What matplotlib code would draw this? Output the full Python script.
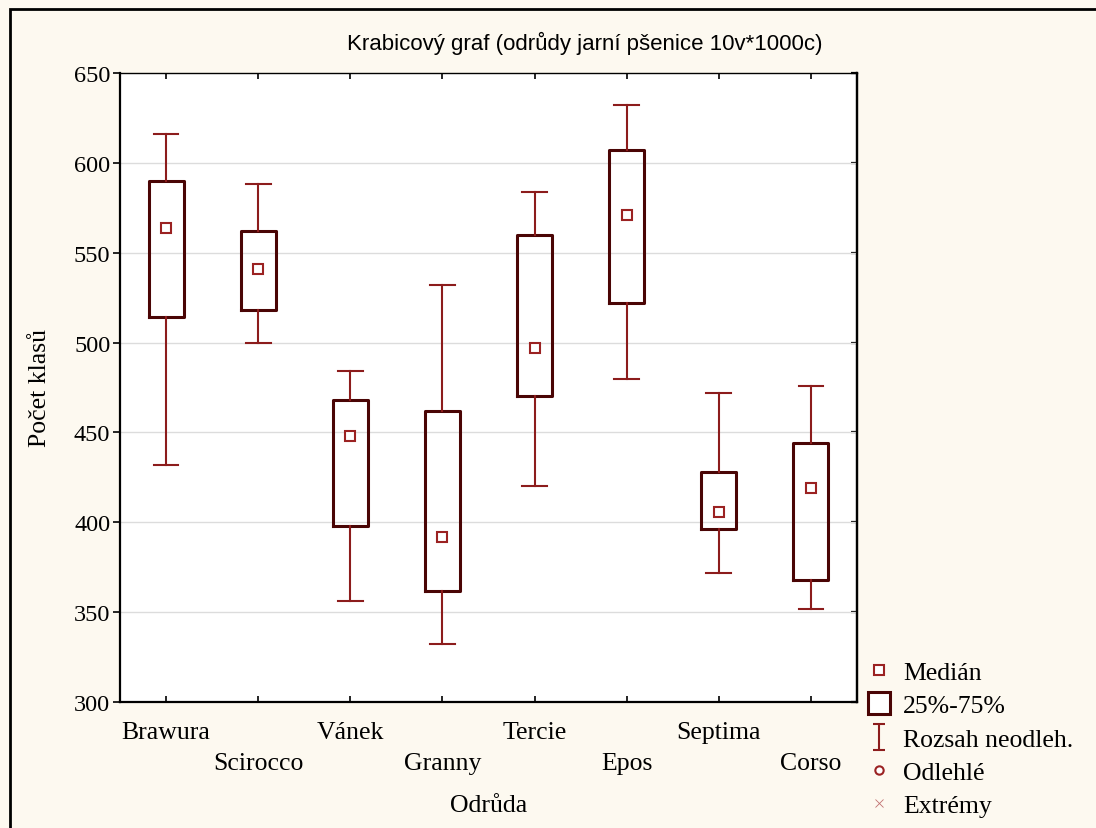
import matplotlib
matplotlib.use("Agg")
import matplotlib.pyplot as plt
from matplotlib.lines import Line2D
from matplotlib.patches import Rectangle
from matplotlib.path import Path

# ---- data ----
varieties = ["Brawura", "Scirocco", "Vánek", "Granny", "Tercie", "Epos", "Septima", "Corso"]
whisker_low = [432, 500, 356, 332, 420, 480, 372, 352]
q1 = [514, 518, 398, 362, 470, 522, 396, 368]
median = [564, 541, 448, 392, 497, 571, 406, 419]
q3 = [590, 562, 468, 462, 560, 607, 428, 444]
whisker_high = [616, 588, 484, 532, 584, 632, 472, 476]
yticks = [300, 350, 400, 450, 500, 550, 600, 650]
legend_labels = ["Medián", "25%-75%", "Rozsah neodleh.", "Odlehlé", "Extrémy"]
title = "Krabicový graf (odrůdy jarní pšenice 10v*1000c)"
xlabel = "Odrůda"
ylabel = "Počet klasů"

# ---- style ----
BG = "#fdf9f0"
BOX = "#4a0505"
WHISK = "#8c1c1c"
MED = "#9b2222"
SERIF = "Liberation Serif"
SANS = "Liberation Sans"
FS = 18.5
FSY = 17.5

fig = plt.figure(figsize=(10.96, 8.29), dpi=100, facecolor=BG)
W, H = 1096, 829
ax = fig.add_axes([120 / W, 1 - 703 / H, (857 - 120) / W, (703 - 74) / H])
ax.set_facecolor("white")

positions = list(range(1, len(varieties) + 1))
stats = []
for i in range(len(varieties)):
    stats.append(dict(med=median[i], q1=q1[i], q3=q3[i],
                      whislo=whisker_low[i], whishi=whisker_high[i], fliers=[]))

ax.bxp(stats, positions=positions, widths=0.38, capwidths=0.27,
       showfliers=False, patch_artist=False,
       boxprops=dict(color=BOX, linewidth=2.2),
       whiskerprops=dict(color=WHISK, linewidth=1.5),
       capprops=dict(color=WHISK, linewidth=1.5),
       medianprops=dict(linewidth=0), zorder=3)
ax.plot(positions, median, linestyle="none", marker="s", markersize=7,
        markerfacecolor="white", markeredgecolor=MED, markeredgewidth=1.5, zorder=4)

ax.set_xlim(0.5, len(varieties) + 0.5)
ax.set_ylim(300, 650)
ax.set_yticks(yticks)
ax.set_yticklabels([str(v) for v in yticks], fontfamily=SERIF, fontsize=FSY)
for v in yticks[1:-1]:
    ax.axhline(v, color="#dcdcdc", linewidth=1.0, zorder=1)

# alternating category labels
ax.set_xticks(positions[0::2])
ax.set_xticklabels(varieties[0::2], fontfamily=SERIF, fontsize=FS)
ax.set_xticks(positions[1::2], minor=True)
ax.set_xticklabels(varieties[1::2], minor=True, fontfamily=SERIF, fontsize=FS)
ax.tick_params(axis="x", which="both", direction="in", top=True, length=4,
               width=1.2, color="black")
ax.tick_params(axis="x", which="major", pad=13.5)
ax.tick_params(axis="x", which="minor", pad=36)
ax.tick_params(axis="y", which="major", direction="out", length=5, width=1.2,
               pad=2, color="black")
sec = ax.secondary_yaxis("right")
sec.set_yticks(yticks)
sec.set_yticklabels([])
sec.tick_params(direction="in", length=4, width=1.6, color="black")
sec.spines["right"].set_linewidth(1.6)

for s in ["left", "bottom", "right"]:
    ax.spines[s].set_linewidth(1.6)
ax.spines["top"].set_linewidth(1.0)

ax.set_ylabel(ylabel, fontfamily=SERIF, fontsize=FS)
ax.yaxis.set_label_coords((40 - 120) / (857 - 120), 0.5)
ax.yaxis.label.set_verticalalignment("center")
ax.set_xlabel(xlabel, fontfamily=SERIF, fontsize=FS)
ax.xaxis.set_label_coords(0.5, (703 - 806) / (703 - 74))
ax.xaxis.label.set_verticalalignment("center")

fig.text(585 / W, 1 - 43 / H, title, fontfamily=SANS, fontsize=16,
         ha="center", va="center")

# legend
ibeam = Path([(-0.45, -1), (0.45, -1), (0, -1), (0, 1), (-0.45, 1), (0.45, 1)],
             [Path.MOVETO, Path.LINETO, Path.MOVETO, Path.LINETO, Path.MOVETO, Path.LINETO])
handles = [
    Line2D([], [], linestyle="none", marker="s", markersize=7, markerfacecolor="white",
           markeredgecolor=MED, markeredgewidth=1.5),
    Line2D([], [], linestyle="none", marker="s", markersize=16, markerfacecolor="white",
           markeredgecolor=BOX, markeredgewidth=2.2),
    Line2D([], [], linestyle="none", marker=ibeam, markersize=19, markerfacecolor="none",
           markeredgecolor=WHISK, markeredgewidth=1.5),
    Line2D([], [], linestyle="none", marker="o", markersize=6, markerfacecolor="white",
           markeredgecolor=MED, markeredgewidth=1.5),
    Line2D([], [], linestyle="none", marker="x", markersize=6, markeredgecolor="#c07070",
           markeredgewidth=0.6),
]
fig.legend(handles, legend_labels, loc="upper left",
           bbox_to_anchor=(866 / W, 1 - 662 / H), frameon=False,
           prop=dict(family=SERIF, size=FS), handlelength=1.0, handletextpad=0.45,
           labelspacing=0.4, borderaxespad=0, borderpad=0)

# outer border
fig.patches.append(Rectangle((10 / W, -0.1), 1.2, 1 - 10 / H + 0.1,
                             transform=fig.transFigure, fill=False,
                             edgecolor="black", linewidth=2, zorder=0))

fig.savefig("out.png", dpi=100, facecolor=BG)
